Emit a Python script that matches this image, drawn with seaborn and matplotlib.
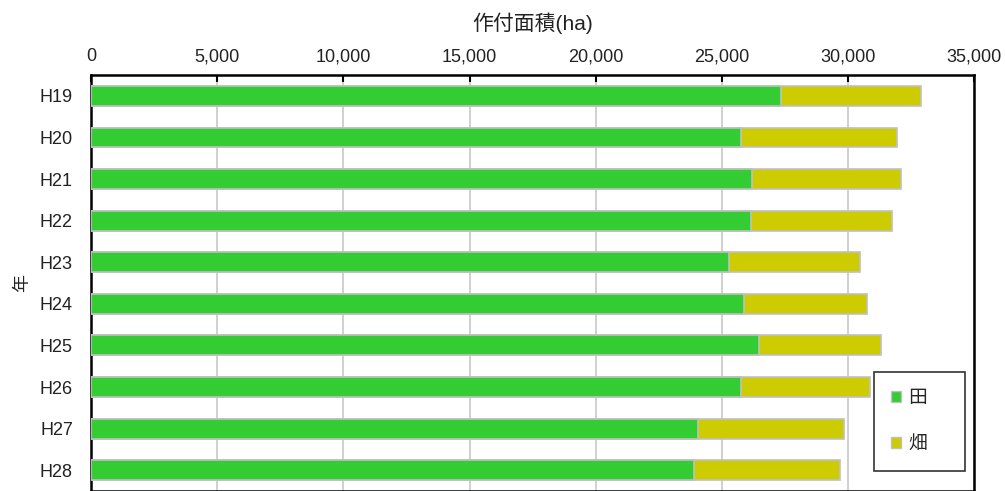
import matplotlib
matplotlib.use("Agg")
import matplotlib.pyplot as plt
from matplotlib.patches import Patch
from matplotlib.ticker import FuncFormatter, FixedLocator
import seaborn as sns
import pandas as pd

years = ["H19", "H20", "H21", "H22", "H23", "H24", "H25", "H26", "H27", "H28"]
ta = [27340, 25750, 26190, 26150, 25280, 25870, 26470, 25750, 24050, 23890]
hata = [5560, 6190, 5910, 5600, 5200, 4880, 4840, 5120, 5790, 5790]
series_names = ["田", "畑"]
colors = ["#33CC33", "#CCCC00"]
xlabel = "作付面積(ha)"
ylabel = "年"

sns.set_theme(style="white")
plt.rcParams['font.family'] = ['Liberation Sans', 'Noto Sans CJK JP', 'DejaVu Sans']

df = pd.DataFrame({"year": years, "ta": ta, "hata": hata})
df["total"] = df["ta"] + df["hata"]

fig = plt.figure(figsize=(10.05, 4.91), dpi=100)
ax = fig.add_axes([0.0905, 0.0, 0.879, 0.847])

sns.barplot(data=df, y="year", x="total", orient="h", color=colors[1],
            saturation=1, width=0.48, edgecolor="#c0c0c0", linewidth=1.2, ax=ax, zorder=3)
sns.barplot(data=df, y="year", x="ta", orient="h", color=colors[0],
            saturation=1, width=0.48, edgecolor="#c0c0c0", linewidth=1.2, ax=ax, zorder=4)

ax.set_xlim(0, 35000)
ax.set_ylim(9.5, -0.5)
ax.xaxis.set_ticks_position("top")
ax.xaxis.set_label_position("top")
ax.set_xticks(range(0, 35001, 5000))
ax.xaxis.set_major_formatter(FuncFormatter(lambda v, p: f"{int(v):,}"))
ax.grid(axis="x", color="#c8c8c8", linewidth=1.2, zorder=0)
ax.set_axisbelow(True)
ax.tick_params(axis="x", direction="in", length=5, width=1.5, color="black",
               labelsize=13, pad=7, labelcolor="#222222")
ax.tick_params(axis="y", which="major", length=0, labelsize=13, pad=13, labelcolor="#222222")
ax.yaxis.set_minor_locator(FixedLocator([i + 0.5 for i in range(-1, 10)]))
ax.tick_params(axis="y", which="minor", direction="in", length=5, width=1.5, color="black")
ax.set_xlabel(xlabel, fontsize=15, labelpad=13, color="#222222")
ax.set_ylabel(ylabel, fontsize=13, labelpad=6, color="#222222")
for s in ax.spines.values():
    s.set_color("black")
    s.set_linewidth(1.8)

handles = [Patch(facecolor=c, edgecolor="#c0c0c0", linewidth=1) for c in colors]
labels = [n + "\u3000" for n in series_names]
leg = ax.legend(handles, labels, loc="upper left", bbox_to_anchor=(0.886, 0.286),
                frameon=True, fancybox=False, edgecolor="black", fontsize=13.5,
                handlelength=0.5, handleheight=0.5, handletextpad=0.45,
                labelspacing=1.55, borderpad=0.95, borderaxespad=0)
leg.get_frame().set_linewidth(1.2)
leg.set_zorder(10)

fig.savefig("out.png", dpi=100, facecolor="white")
